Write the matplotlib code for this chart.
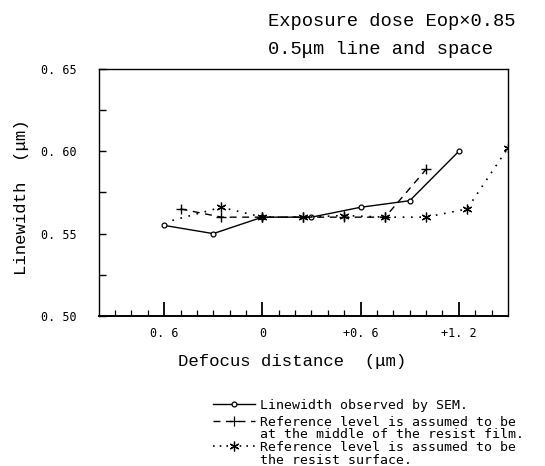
# Linewidth vs defocus distance, 0.5um line and space
import numpy as np
import matplotlib
matplotlib.use("Agg")
import matplotlib.pyplot as plt
from matplotlib.lines import Line2D

# Data
sem_x = [-0.6, -0.3, 0.0, 0.3, 0.6, 0.9, 1.2]
sem_y = [0.555, 0.550, 0.560, 0.560, 0.566, 0.570, 0.600]

mid_x = [-0.5, -0.25, 0.0, 0.25, 0.5, 0.75, 1.0]
mid_y = [0.565, 0.560, 0.560, 0.560, 0.560, 0.560, 0.589]

surf_x = [-0.55, -0.25, 0.0, 0.25, 0.5, 0.75, 1.0, 1.25, 1.5]
surf_y = [0.558, 0.566, 0.560, 0.560, 0.561, 0.560, 0.560, 0.565, 0.602]

xticks = [-0.6, 0.0, 0.6, 1.2]
xtick_labels = ["0. 6", "0", "+0. 6", "+1. 2"]
yticks = [0.50, 0.55, 0.60, 0.65]
ytick_labels = ["0. 50", "0. 55", "0. 60", "0. 65"]

legend_labels = [
    "Linewidth observed by SEM.",
    "Reference level is assumed to be\nat the middle of the resist film.",
    "Reference level is assumed to be\nthe resist surface.",
]

serif = ["Liberation Mono", "DejaVu Sans Mono"]
small = ["DejaVu Sans Mono"]

fig = plt.figure(figsize=(5.45, 4.66), dpi=100)
ax = fig.add_axes([0.181, 0.322, 0.751, 0.530])

ax.plot(sem_x, sem_y, color="black", lw=1.0, marker="o", ms=3.5,
        mfc="white", mec="black", mew=0.9)
ax.plot(mid_x, mid_y, color="black", lw=1.0, ls=(0, (5, 4)), marker="+",
        ms=7, mew=1.0)
ax.plot(surf_x, surf_y, color="black", lw=1.2, ls=(0, (1, 4)),
        marker=(6, 2, 0), ms=7, mew=0.9, markevery=list(range(1, len(surf_x))))

ax.set_xlim(-1.0, 1.5)
ax.set_ylim(0.50, 0.65)

ax.set_xticks(xticks)
ax.set_xticklabels(xtick_labels, fontfamily=small, fontsize=8.5)
ax.set_xticks(np.arange(-0.9, 1.5, 0.1), minor=True)
ax.set_yticks(yticks)
ax.set_yticklabels(ytick_labels, fontfamily=small, fontsize=8.5)
ax.set_yticks([0.525, 0.575, 0.625], minor=True)

ax.tick_params(axis="x", which="major", direction="in", length=10, width=1.3, pad=8)
ax.tick_params(axis="x", which="minor", direction="in", length=4, width=0.9)
ax.tick_params(axis="y", which="both", direction="in", length=5, width=1.0, pad=16)

for s in ax.spines.values():
    s.set_linewidth(1.0)
ax.spines["bottom"].set_linewidth(1.4)

ax.set_xlabel("Defocus distance  (\u03bcm)", fontfamily=serif, fontsize=12.5)
ax.xaxis.set_label_coords(0.473, -0.155)
ax.set_ylabel("Linewidth  (\u03bcm)", fontfamily=serif, fontsize=12.5)
ax.yaxis.set_label_coords(-0.17, 0.48)

fig.text(0.492, 0.953, "Exposure dose Eop\u00d70.85", fontfamily=serif,
         fontsize=13.5, va="center", ha="left")
fig.text(0.492, 0.893, "0.5\u03bcm line and space", fontfamily=serif,
         fontsize=13.5, va="center", ha="left")

# hand-made legend below the plot
handles = [
    dict(ls="-", marker="o", ms=3.5, mfc="white", lw=1.0),
    dict(ls=(0, (5, 4)), marker="+", ms=7, mfc="black", lw=1.0),
    dict(ls=(0, (1, 3)), marker=(6, 2, 0), ms=7, mfc="black", lw=1.2),
]
ys = [404, 421, 446]
for h, lab, yp in zip(handles, legend_labels, ys):
    yf = 1 - yp / 466
    fig.add_artist(Line2D([213 / 545, 255 / 545], [yf, yf], color="black",
                          linestyle=h["ls"], lw=h["lw"]))
    fig.add_artist(Line2D([234 / 545], [yf], color="black", marker=h["marker"],
                          ms=h["ms"], mfc=h["mfc"], mec="black", mew=0.9,
                          linestyle="none"))
    fig.text(260 / 545, yf + 5 / 466, lab, fontfamily=small, fontsize=9.5,
             va="top", ha="left", linespacing=0.95)

fig.savefig("out.png", dpi=100)
